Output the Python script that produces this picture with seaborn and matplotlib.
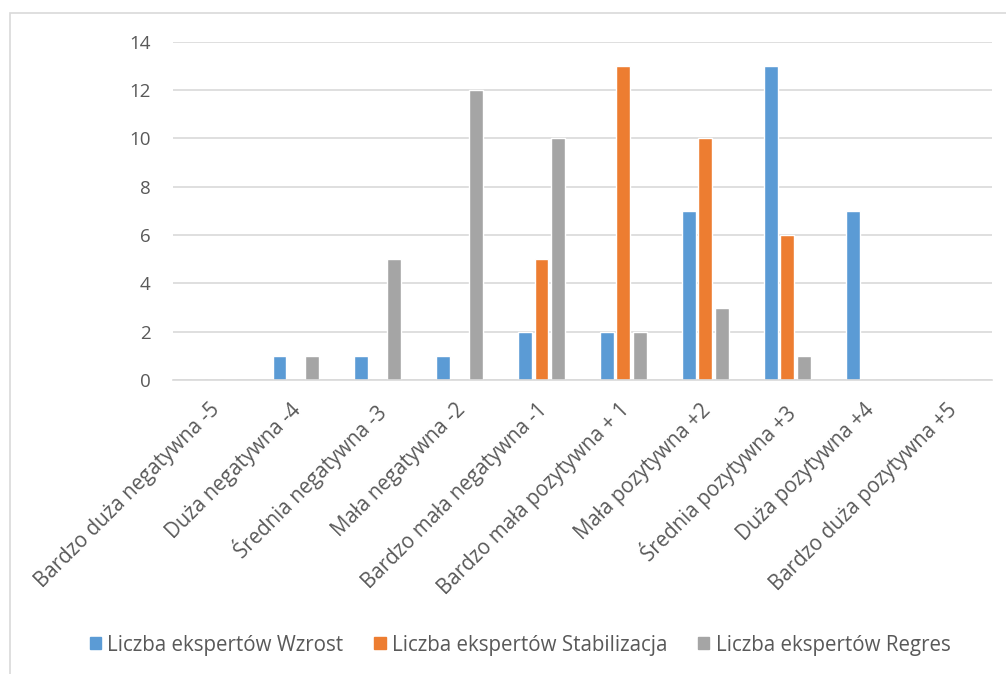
import matplotlib.pyplot as plt
import matplotlib.patches as mpatches
import matplotlib.transforms as mtransforms
import pandas as pd
import seaborn as sns

categories = [
    "Bardzo duża negatywna -5",
    "Duża negatywna -4",
    "Średnia negatywna -3",
    "Mała negatywna -2",
    "Bardzo mała negatywna -1",
    "Bardzo mała pozytywna + 1",
    "Mała pozytywna +2",
    "Średnia pozytywna +3",
    "Duża pozytywna +4",
    "Bardzo duża pozytywna +5",
]
wzrost = [0, 1, 1, 1, 2, 2, 7, 13, 7, 0]
stabilizacja = [0, 0, 0, 0, 5, 13, 10, 6, 0, 0]
regres = [0, 1, 5, 12, 10, 2, 3, 1, 0, 0]
series_names = [
    "Liczba ekspertów Wzrost",
    "Liczba ekspertów Stabilizacja",
    "Liczba ekspertów Regres",
]
colors = ["#5B9BD5", "#ED7D31", "#A5A5A5"]

df = pd.DataFrame({
    "category": categories * 3,
    "value": wzrost + stabilizacja + regres,
    "series": [s for s in series_names for _ in categories],
})

sns.set_theme(style="white")
plt.rcParams["font.family"] = ["Open Sans", "DejaVu Sans"]
text_color = "#595959"

fig = plt.figure(figsize=(10.06, 6.74), dpi=100)
ax = fig.add_axes([0.172, 0.436, 0.814, 0.502])

sns.barplot(
    data=df, x="category", y="value", hue="series",
    order=categories, hue_order=series_names, palette=colors,
    width=0.6, gap=0.15, saturation=1, ax=ax, legend=False,
)

ax.set_ylim(0, 14)
ax.set_yticks(range(0, 15, 2))
ax.set_xlim(-0.5, len(categories) - 0.5)
ax.yaxis.grid(True, color="#D9D9D9", linewidth=1.2)
ax.set_axisbelow(True)
for side in ["top", "right", "left"]:
    ax.spines[side].set_visible(False)
ax.spines["bottom"].set_color("#D9D9D9")
ax.spines["bottom"].set_linewidth(1.2)
ax.set_xlabel("")
ax.set_ylabel("")
ax.tick_params(axis="both", length=0, colors=text_color)
ax.tick_params(axis="x", pad=14, labelsize=14.8)
ax.tick_params(axis="y", pad=16, labelsize=13.5)
shift = mtransforms.ScaledTranslation(-5 / 100, 0, fig.dpi_scale_trans)
for lbl in ax.get_xticklabels():
    lbl.set_rotation(45)
    lbl.set_ha("right")
    lbl.set_rotation_mode("anchor")
    lbl.set_transform(lbl.get_transform() + shift)

handles = [mpatches.Patch(color=c, label=n) for c, n in zip(colors, series_names)]
fig.legend(
    handles=handles, loc="center", bbox_to_anchor=(0.517, 0.043), ncol=3,
    frameon=False, fontsize=14.8, labelcolor=text_color,
    handlelength=0.55, handleheight=0.55, handletextpad=0.3, columnspacing=1.5,
)

# outer chart frame
fig.patches.append(mpatches.Rectangle(
    (0.01, -0.05), 1.2, 1.031, transform=fig.transFigure,
    fill=False, edgecolor="#D9D9D9", linewidth=1.2,
))

fig.savefig("out.png", dpi=100)
